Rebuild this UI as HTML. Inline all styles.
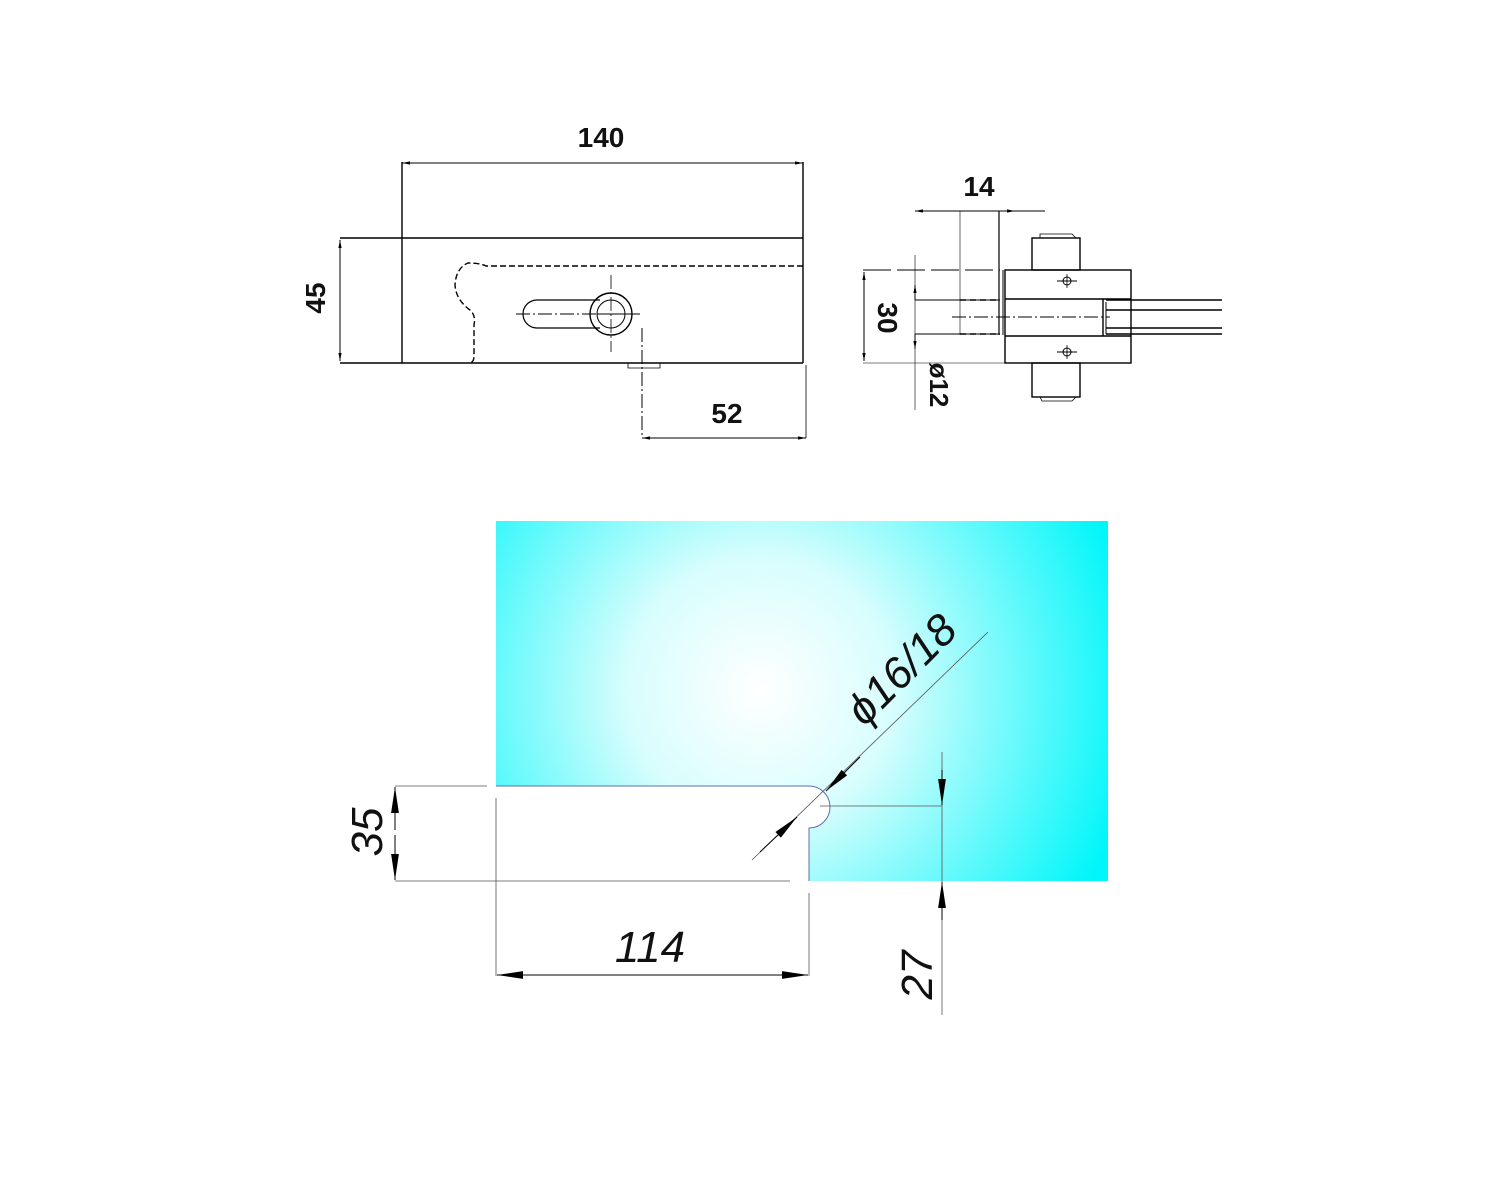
<!DOCTYPE html>
<html><head><meta charset="utf-8"><style>html,body{margin:0;padding:0;background:#fff}svg{display:block}</style></head>
<body>
<svg width="1500" height="1200" viewBox="0 0 1500 1200" xmlns="http://www.w3.org/2000/svg" font-family="'Liberation Sans',sans-serif">
<defs>
<radialGradient id="g" cx="760" cy="690" r="380" gradientUnits="userSpaceOnUse">
<stop offset="0" stop-color="#ffffff"/><stop offset="0.35" stop-color="#d8fdfd"/><stop offset="1" stop-color="#00f6fa"/>
</radialGradient>
<marker id="a" viewBox="0 0 10 10" refX="10" refY="5" markerWidth="8" markerHeight="8" orient="auto-start-reverse" markerUnits="userSpaceOnUse"><path d="M0,3 L10,5 L0,7z" fill="#000"/></marker>
<marker id="b" viewBox="0 0 10 10" refX="10" refY="5" markerWidth="26" markerHeight="26" orient="auto-start-reverse" markerUnits="userSpaceOnUse"><path d="M0,3.5 L10,5 L0,6.5z" fill="#000"/></marker>
</defs>
<g stroke="#000" fill="none" stroke-width="1.4">
<!-- top main view -->
<line x1="340" y1="238" x2="803" y2="238"/>
<line x1="340" y1="363" x2="803" y2="363"/>
<line x1="402" y1="162" x2="402" y2="363"/>
<line x1="803" y1="162" x2="803" y2="363"/>
<line x1="806" y1="365" x2="806" y2="438" stroke-width="0.8"/>
<line x1="402" y1="163" x2="803" y2="163" marker-start="url(#a)" marker-end="url(#a)" stroke-width="1"/>
<line x1="340" y1="240" x2="340" y2="361" marker-start="url(#a)" marker-end="url(#a)" stroke-width="1"/>
<path d="M803,266 L486,266 Q480,263 468,263 Q456,268 455,285 Q456,300 470,310 Q476,315 474,325 L474,356 Q474,362 470,363" stroke-dasharray="6,3"/>
<circle cx="611" cy="314" r="21"/>
<circle cx="611" cy="314" r="14" stroke-width="1"/>
<path d="M600,300 L537,300 A13,13 0 0 0 537,328 L600,328" stroke-width="1.2"/>
<line x1="516" y1="314" x2="643" y2="314" stroke-dasharray="14,3,2,3" stroke-width="1"/>
<line x1="597" y1="314" x2="628" y2="314" stroke-width="1"/>
<line x1="611" y1="275" x2="611" y2="352" stroke-dasharray="14,3,2,3" stroke-width="0.8"/>
<line x1="642" y1="328" x2="642" y2="438" stroke-dasharray="14,3,2,3" stroke-width="1"/>
<path d="M628,363 L628,368 L660,368 L660,363" stroke-width="0.8"/>
<line x1="642" y1="438" x2="806" y2="438" marker-start="url(#a)" marker-end="url(#a)" stroke-width="1"/>
<!-- side view -->
<line x1="915" y1="211" x2="1045" y2="211" stroke-width="1"/>
<line x1="945" y1="211" x2="915" y2="211" marker-end="url(#a)" stroke-width="1"/>
<line x1="985" y1="211" x2="1015" y2="211" marker-end="url(#a)" stroke-width="1"/>
<line x1="960" y1="211" x2="960" y2="335" stroke-width="0.6"/>
<line x1="999" y1="211" x2="999" y2="335" stroke-width="1.2"/>
<line x1="1003" y1="270" x2="1003" y2="335" stroke-width="1"/>
<line x1="863" y1="270" x2="1000" y2="270" stroke-dasharray="28,6" stroke-width="1"/>
<rect x="1005" y="270" width="126" height="93"/>
<line x1="1005" y1="299" x2="1131" y2="299"/>
<line x1="1005" y1="336" x2="1131" y2="336"/>
<line x1="1103" y1="299" x2="1103" y2="336"/>
<rect x="1032" y="238" width="48" height="32"/>
<rect x="1032" y="363" width="48" height="34"/>
<path d="M1040,238 L1040,234 L1072,234 L1076,238" stroke-width="0.8"/>
<path d="M1040,397 L1042,401 L1072,401 L1076,397" stroke-width="0.8"/>
<line x1="1106" y1="300" x2="1222" y2="300"/>
<line x1="1106" y1="310" x2="1222" y2="310"/>
<line x1="1106" y1="328" x2="1222" y2="328"/>
<line x1="1106" y1="334" x2="1222" y2="334"/>
<line x1="1106" y1="302" x2="1106" y2="334" stroke-width="1"/>
<line x1="915" y1="300" x2="1000" y2="300" stroke-width="1"/>
<line x1="960" y1="300" x2="1000" y2="300" stroke-dasharray="6,4"/>
<line x1="915" y1="334" x2="1000" y2="334" stroke-width="1"/>
<line x1="960" y1="334" x2="1000" y2="334" stroke-dasharray="6,4"/>
<line x1="952" y1="317" x2="1110" y2="317" stroke-dasharray="14,3,2,3" stroke-width="1"/>
<line x1="915" y1="255" x2="915" y2="410" stroke-width="0.6"/>
<line x1="915" y1="300" x2="915" y2="285" marker-end="url(#a)" stroke-width="1"/>
<line x1="915" y1="334" x2="915" y2="349" marker-end="url(#a)" stroke-width="1"/>
<line x1="863" y1="363" x2="1005" y2="363" stroke-width="0.6"/>
<line x1="864" y1="272" x2="864" y2="361" marker-start="url(#a)" marker-end="url(#a)" stroke-width="1"/>
<circle cx="1067" cy="281" r="4" stroke-width="1"/><line x1="1057" y1="281" x2="1077" y2="281" stroke-width="1"/><line x1="1067" y1="274" x2="1067" y2="288" stroke-width="0.8"/>
<circle cx="1067" cy="352" r="4" stroke-width="1"/><line x1="1057" y1="352" x2="1077" y2="352" stroke-width="1"/><line x1="1067" y1="345" x2="1067" y2="359" stroke-width="0.8"/>
</g>
<!-- glass -->
<path d="M496,521 L1108,521 L1108,881 L809,881 L809,828 A21,21 0 0 0 809,786 L496,786 Z" fill="url(#g)"/>
<path d="M496,786 L809,786 A21,21 0 0 1 809,828 L809,881" fill="none" stroke="#5b6fb0" stroke-width="1"/>
<g stroke="#555" fill="none" stroke-width="0.8">
<line x1="395" y1="786" x2="487" y2="786"/>
<line x1="395" y1="881" x2="790" y2="881"/>
<line x1="496" y1="798" x2="496" y2="976"/>
<line x1="809" y1="893" x2="809" y2="976"/>
<line x1="820" y1="806" x2="942" y2="806"/>
<line x1="942" y1="752" x2="942" y2="1015"/>
<line x1="752" y1="860" x2="988" y2="632"/>
</g>
<g stroke="#000" stroke-width="1">
<line x1="395" y1="830" x2="395" y2="787" marker-end="url(#b)"/>
<line x1="395" y1="835" x2="395" y2="880" marker-end="url(#b)"/>
<line x1="650" y1="975" x2="497" y2="975" marker-end="url(#b)"/>
<line x1="650" y1="975" x2="808" y2="975" marker-end="url(#b)"/>
<line x1="942" y1="770" x2="942" y2="805" marker-end="url(#b)"/>
<line x1="942" y1="920" x2="942" y2="882" marker-end="url(#b)"/>
<line x1="860" y1="757" x2="826" y2="791" marker-end="url(#b)"/>
<line x1="760" y1="852" x2="797" y2="817" marker-end="url(#b)"/>
</g>
<g fill="#111" font-weight="bold" font-size="28">
<text x="601" y="147" text-anchor="middle">140</text>
<text x="727" y="423" text-anchor="middle">52</text>
<text x="979" y="196" text-anchor="middle">14</text>
<text transform="translate(325,298) rotate(-90)" text-anchor="middle">45</text>
<text transform="translate(878,318) rotate(90)" text-anchor="middle">30</text>
<text transform="translate(930,385) rotate(90)" text-anchor="middle" font-size="26">ø12</text>
</g>
<g fill="#111" font-style="italic" font-size="44">
<text x="650" y="962" text-anchor="middle">114</text>
<text transform="translate(382,832) rotate(-90)" text-anchor="middle">35</text>
<text transform="translate(932,975) rotate(-90)" text-anchor="middle">27</text>
<text transform="translate(912,680) rotate(-45)" text-anchor="middle">ϕ16/18</text>
</g>
</svg>
</body></html>
